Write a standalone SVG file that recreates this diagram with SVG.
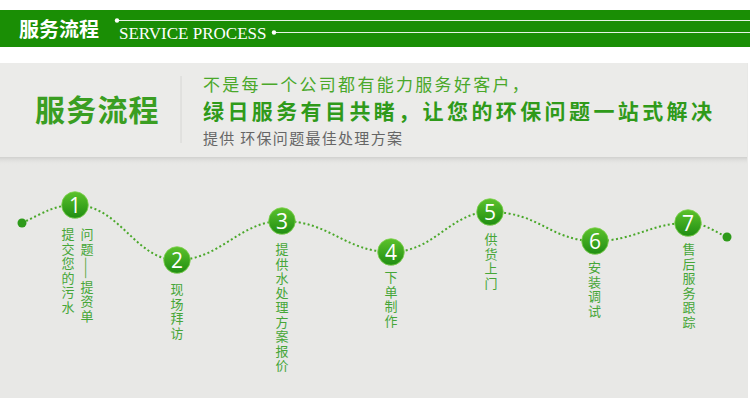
<svg xmlns="http://www.w3.org/2000/svg" width="750" height="409" viewBox="0 0 750 409">
<defs>
<linearGradient id="ball" x1="0" y1="0" x2="0" y2="1">
<stop offset="0" stop-color="#5cc22c"/>
<stop offset="1" stop-color="#1f8d12"/>
</linearGradient>
<linearGradient id="shadow" x1="0" y1="0" x2="0" y2="1">
<stop offset="0" stop-color="#d0d0ce"/>
<stop offset="1" stop-color="#e7e7e5" stop-opacity="0"/>
</linearGradient>
<style>
.cjk{font-family:"Noto Sans CJK SC","Noto Sans",sans-serif}
.num{font-family:"Open Sans","Liberation Sans",sans-serif;font-size:21px;fill:#fff;text-anchor:middle}
.lbl{font-family:"Noto Sans CJK SC",sans-serif;font-size:13px;fill:#46a638;writing-mode:vertical-rl;letter-spacing:1.5px}
.ball{fill:url(#ball);stroke:#7fd04f;stroke-width:0.8}
</style>
</defs>
<rect x="0" y="0" width="750" height="409" fill="#ffffff"/>
<!-- header bar -->
<g id="header">
<rect x="0" y="10" width="750" height="37" fill="#1a8e05"/>
<text x="19" y="37" class="cjk" font-size="20" font-weight="bold" fill="#ffffff">服务流程</text>
<text x="119" y="39" font-family="Liberation Serif,serif" font-size="17" fill="#ffffff">SERVICE PROCESS</text>
<circle cx="117" cy="20.5" r="2.2" fill="#ffffff"/>
<line x1="117" y1="20.5" x2="750" y2="20.5" stroke="#ffffff" stroke-width="0.9"/>
<circle cx="274" cy="32.5" r="2.2" fill="#ffffff"/>
<line x1="274" y1="32.5" x2="750" y2="32.5" stroke="#ffffff" stroke-width="0.9"/>
</g>
<!-- panel -->
<rect x="0" y="63" width="748" height="335" fill="#e8e8e6"/>
<rect x="0" y="63" width="747" height="95" fill="#ebebe9"/>
<rect x="0" y="157" width="747" height="8" fill="url(#shadow)"/>
<g id="intro">
<text x="35" y="121" class="cjk" font-size="30" font-weight="bold" fill="#3a9e22" letter-spacing="1.2">服务流程</text>
<line x1="181" y1="76" x2="181" y2="143" stroke="#d6d6d4" stroke-width="1"/>
<text x="203" y="91" class="cjk" font-size="17" fill="#4aa82a" letter-spacing="2.3">不是每一个公司都有能力服务好客户，</text>
<text x="203" y="119" class="cjk" font-size="21" font-weight="bold" fill="#2f9a1a" letter-spacing="3.4">绿日服务有目共睹，让您的环保问题一站式解决</text>
<text x="203" y="144" class="cjk" font-size="15" fill="#666666" letter-spacing="1.3">提供 环保问题最佳处理方案</text>
</g>
<!-- connectors -->
<g id="connectors" fill="none" stroke="#4aa82a" stroke-width="2" stroke-dasharray="2 2.5">
<path d="M22,223 C45,212 55,205 75,205 C120,205 135,260 177,260 C220,260 240,221 282,221 C330,221 345,252 391,252 C435,252 450,212 490,212 C540,212 550,241 595,241 C635,241 650,223 688,223 C705,223 715,232 727,237"/>
</g>
<g id="start"><circle cx="22" cy="223" r="4.5" fill="#2e9a1a"/></g>
<g id="end"><circle cx="727" cy="237" r="4.5" fill="#2e9a1a"/></g>
<g id="step1">
<circle cx="75" cy="205" r="13.3" class="ball"/>
<text x="75" y="212.5" class="num">1</text>
<text x="68" y="228" class="lbl">提交您的污水</text>
<text x="87" y="228" class="lbl">问题——提资单</text>
</g>
<g id="step2">
<circle cx="177" cy="260" r="13.3" class="ball"/>
<text x="177" y="267.5" class="num">2</text>
<text x="177" y="283" class="lbl">现场拜访</text>
</g>
<g id="step3">
<circle cx="282" cy="221" r="13.3" class="ball"/>
<text x="282" y="228.5" class="num">3</text>
<text x="282" y="243" class="lbl">提供水处理方案报价</text>
</g>
<g id="step4">
<circle cx="391" cy="252" r="13.3" class="ball"/>
<text x="391" y="259.5" class="num">4</text>
<text x="391" y="271" class="lbl">下单制作</text>
</g>
<g id="step5">
<circle cx="490" cy="212" r="13.3" class="ball"/>
<text x="490" y="219.5" class="num">5</text>
<text x="491" y="233" class="lbl">供货上门</text>
</g>
<g id="step6">
<circle cx="595" cy="241" r="13.3" class="ball"/>
<text x="595" y="248.5" class="num">6</text>
<text x="594.5" y="261" class="lbl">安装调试</text>
</g>
<g id="step7">
<circle cx="688" cy="223" r="13.3" class="ball"/>
<text x="688" y="230.5" class="num">7</text>
<text x="689" y="243" class="lbl">售后服务跟踪</text>
</g>
</svg>
